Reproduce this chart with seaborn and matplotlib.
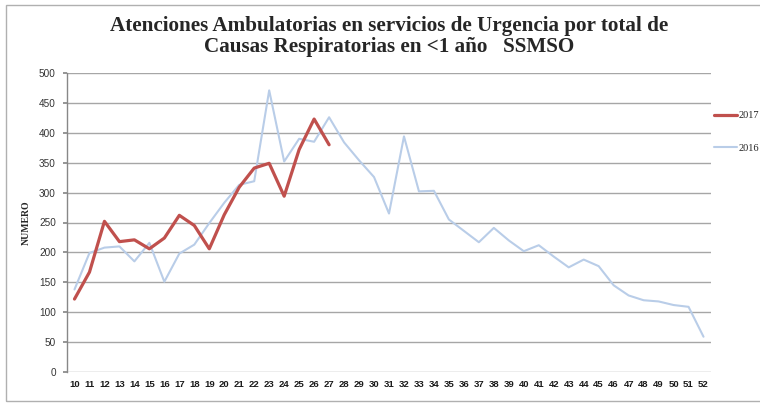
import matplotlib
matplotlib.use("Agg")
import matplotlib.pyplot as plt
import matplotlib.patches as mpatches
import pandas as pd
import seaborn as sns

# ---- data ----
semanas = list(range(10, 53))

atenciones_2017 = [122, 167, 252, 218, 221, 206, 224, 262, 245, 206,
                   263, 309, 341, 349, 294, 372, 423, 380]

atenciones_2016 = [138, 199, 208, 210, 185, 216, 151, 198, 213, 249,
                   283, 313, 319, 471, 352, 390, 385, 426, 384, 354,
                   326, 265, 394, 302, 303, 255, 236, 217, 241, 220,
                   202, 212, 193, 175, 188, 177, 145, 128, 120, 118,
                   112, 109, 59]

y_ticks = list(range(0, 501, 50))

titulo = ("Atenciones Ambulatorias en servicios de Urgencia por total de\n"
          "Causas Respiratorias en <1 año   SSMSO")

df16 = pd.DataFrame({"semana": semanas, "n": atenciones_2016})
df17 = pd.DataFrame({"semana": semanas[:len(atenciones_2017)], "n": atenciones_2017})

sns.set_theme(style="white")
plt.rcParams["font.family"] = ["Liberation Sans", "DejaVu Sans"]

fig = plt.figure(figsize=(7.6, 4.07), dpi=100)
ax = fig.add_axes([67 / 760, 1 - 372 / 407, (711 - 67) / 760, (372 - 73) / 407])

# marco exterior del gráfico
fig.patches.append(mpatches.Rectangle((6 / 760, 1 - 401 / 407), 1.0, (401 - 5) / 407,
                                      transform=fig.transFigure, fill=False,
                                      edgecolor="#b0b0b0", linewidth=1.0))

sns.lineplot(data=df16, x="semana", y="n", ax=ax, color="#b9cde8", linewidth=1.5,
             label="2016", zorder=3)
sns.lineplot(data=df17, x="semana", y="n", ax=ax, color="#c0504d", linewidth=2.3,
             label="2017", zorder=4)

ax.set_xlim(9.5, 52.5)
ax.set_ylim(0, 500)
ax.set_xticks(semanas)
ax.set_xticklabels([str(s) for s in semanas], fontsize=6.8, fontweight="bold",
                   color="#1a1a1a")
ax.set_yticks(y_ticks)
ax.set_yticklabels([str(v) for v in y_ticks], fontsize=7.2, color="#333333")
ax.tick_params(axis="x", length=0, pad=6)
ax.tick_params(axis="y", length=3, color="#888888", pad=5, direction="out", left=True)

ax.yaxis.grid(True, color="#a6a6a6", linewidth=1.0)
ax.set_axisbelow(True)
for lado in ["top", "right", "bottom"]:
    ax.spines[lado].set_visible(False)
ax.spines["left"].set_color("#888888")
ax.spines["left"].set_linewidth(1.0)

ax.set_xlabel("")
ax.set_ylabel("NUMERO", fontsize=7, fontweight="bold", family="Liberation Serif",
              labelpad=6)

fig.text(389 / 760, 1 - 16 / 407, titulo, ha="center", va="top", fontsize=15.2,
         fontweight="bold", family="Liberation Serif", linespacing=1.08)

# leyenda a la derecha, 2017 arriba
handles, labels = ax.get_legend_handles_labels()
orden = [labels.index("2017"), labels.index("2016")]
ax.legend([handles[i] for i in orden], [labels[i] for i in orden],
          loc="upper left", bbox_to_anchor=(710 / 760, 1 - 107 / 407),
          bbox_transform=fig.transFigure, frameon=False, handlelength=2.2,
          handletextpad=0.1, labelspacing=2.2, borderaxespad=0,
          prop={"family": "Liberation Serif", "size": 7.5})

fig.savefig("out.png", dpi=100)
